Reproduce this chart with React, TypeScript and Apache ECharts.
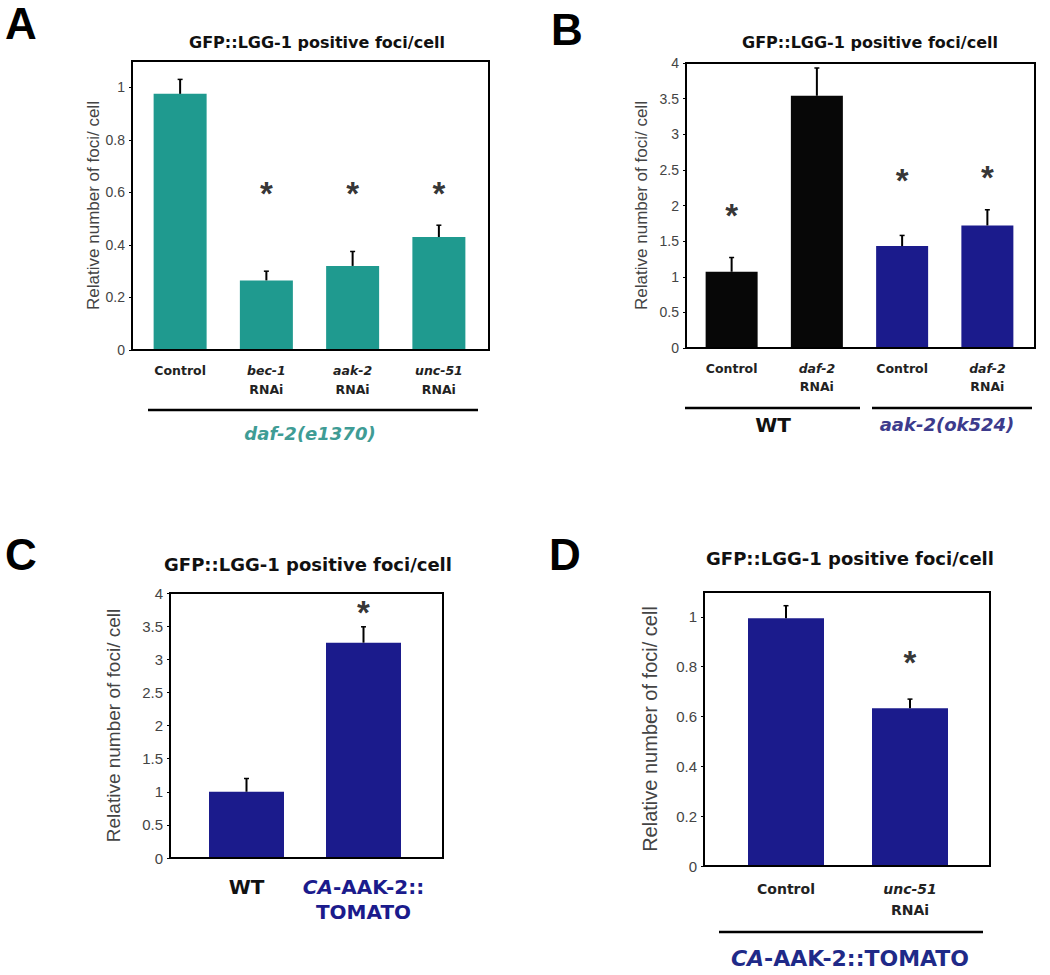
import React, { useEffect, useRef } from "react";
import * as echarts from "echarts";

// ---------- data ----------
const catsA = ["Control", "bec-1 RNAi", "aak-2 RNAi", "unc-51 RNAi"];
const valsA = [0.975, 0.265, 0.32, 0.43];
const errsA = [0.055, 0.035, 0.055, 0.045];
const starsA: (number | null)[] = [null, 0.617, 0.617, 0.617];

const catsB = ["Control", "daf-2 RNAi", "Control", "daf-2 RNAi"];
const valsB = [1.07, 3.54, 1.43, 1.72];
const errsB = [0.2, 0.39, 0.15, 0.22];
const starsB: (number | null)[] = [1.94, null, 2.44, 2.48];

const catsC = ["WT", "CA-AAK-2::TOMATO"];
const valsC = [1.0, 3.25];
const errsC = [0.2, 0.24];
const starsC: (number | null)[] = [null, 3.79];

const catsD = ["Control", "unc-51 RNAi"];
const valsD = [0.995, 0.633];
const errsD = [0.05, 0.037];
const starsD: (number | null)[] = [null, 0.843];

const groupsA = ["daf-2(e1370)"];
const groupsB = ["WT", "aak-2(ok524)"];
const groupsD = ["CA-AAK-2::TOMATO"];

const TITLE = "GFP::LGG-1 positive foci/cell";
const YNAME = "Relative number of foci/ cell";

// ---------- styles ----------
const TEAL = "#1f9a8f";
const NAVY = "#1b1b8c";
const BLACK = "#070707";
const VERD = '"DejaVu Sans", Verdana, sans-serif';
const ARIAL = '"Liberation Sans", Arial, sans-serif';

function rnaiFormatter(v: string) {
  const parts = v.split(" ");
  if (parts.length > 1) return `{g|${parts[0]}}\n{n|${parts[1]}}`;
  return `{n|${v}}`;
}

function caFormatter(v: string) {
  if (v.indexOf("::") < 0) return `{w|${v}}`;
  const [head, tail] = v.split("::");
  const dash = head.indexOf("-");
  return `{ci|${head.slice(0, dash)}}{cb|${head.slice(dash)}::}\n{cb|${tail}}`;
}

type PanelCfg = {
  cats: string[];
  vals: number[];
  errs: number[];
  stars: (number | null)[];
  colors: string[];
  yMax: number;
  yInterval: number;
  showMax: boolean;
  frame: { left: number; top: number; width: number; height: number };
  bars: { left: number; width: number };
  barWidth: number;
  tickFont: number;
  nameFont: number;
  nameGap: number;
  labelMargin: number;
  formatter: (v: string) => string;
  rich: any;
};

function buildPanel(cfg: PanelCfg, idx: number, opt: any) {
  const fg = idx * 2;
  const bg = idx * 2 + 1;
  opt.grid.push({
    left: cfg.frame.left,
    top: cfg.frame.top,
    width: cfg.frame.width,
    height: cfg.frame.height,
    show: true,
    borderColor: "#000",
    borderWidth: 2,
    backgroundColor: "rgba(0,0,0,0)",
    z: 5,
    containLabel: false,
    outerBoundsMode: "none",
  });
  opt.grid.push({
    left: cfg.bars.left,
    top: cfg.frame.top,
    width: cfg.bars.width,
    height: cfg.frame.height,
    containLabel: false,
    outerBoundsMode: "none",
  });
  opt.xAxis.push({ gridIndex: fg, type: "value", show: false, min: 0, max: 1 });
  opt.yAxis.push({
    gridIndex: fg,
    type: "value",
    min: 0,
    max: cfg.yMax,
    interval: cfg.yInterval,
    axisLine: { show: false },
    axisTick: { show: true, length: 3, lineStyle: { color: "#000", width: 1 } },
    splitLine: { show: false },
    axisLabel: {
      showMaxLabel: cfg.showMax,
      color: "#444",
      fontSize: cfg.tickFont,
      fontFamily: ARIAL,
      margin: 7,
      formatter: (v: number) => String(+v.toFixed(2)),
    },
    name: YNAME,
    nameLocation: "middle",
    nameRotate: 90,
    nameGap: cfg.nameGap,
    nameMoveOverlap: false,
    nameTextStyle: { fontSize: cfg.nameFont, color: "#444", fontFamily: ARIAL },
  });
  opt.xAxis.push({
    gridIndex: bg,
    type: "category",
    data: cfg.cats,
    axisLine: { show: false },
    axisTick: { show: false },
    axisLabel: {
      interval: 0,
      margin: cfg.labelMargin,
      formatter: cfg.formatter,
      rich: cfg.rich,
    },
  });
  opt.yAxis.push({ gridIndex: bg, type: "value", min: 0, max: cfg.yMax, show: false });

  opt.series.push({
    type: "bar",
    xAxisIndex: bg,
    yAxisIndex: bg,
    barWidth: cfg.barWidth,
    data: cfg.vals.map((v, i) => ({ value: v, itemStyle: { color: cfg.colors[i] } })),
    z: 2,
  });
  opt.series.push({
    type: "custom",
    xAxisIndex: bg,
    yAxisIndex: bg,
    z: 3,
    encode: { x: 0, y: 1 },
    data: cfg.vals.map((v, i) => [i, v, cfg.errs[i]]),
    renderItem: (_p: any, api: any) => {
      const x = api.value(0);
      const v = api.value(1);
      const e = api.value(2);
      const p0 = api.coord([x, v]);
      const p1 = api.coord([x, v + e]);
      return {
        type: "group",
        children: [
          {
            type: "line",
            shape: { x1: p0[0], y1: p0[1], x2: p1[0], y2: p1[1] },
            style: { stroke: "#000", lineWidth: 2 },
          },
          {
            type: "line",
            shape: { x1: p1[0] - 2.5, y1: p1[1], x2: p1[0] + 2.5, y2: p1[1] },
            style: { stroke: "#000", lineWidth: 1.5 },
          },
        ],
      };
    },
  });
  const starData: any[] = [];
  cfg.stars.forEach((s, i) => {
    if (s != null) starData.push([i, s]);
  });
  opt.series.push({
    type: "scatter",
    xAxisIndex: bg,
    yAxisIndex: bg,
    symbolSize: 1,
    itemStyle: { color: "rgba(0,0,0,0)" },
    z: 4,
    data: starData,
    label: {
      show: true,
      position: "inside",
      formatter: "*",
      fontSize: 33,
      fontWeight: "bold",
      fontFamily: ARIAL,
      color: "#000",
      offset: [0, 6],
    },
  });
}

const richSmall = (size: number, lh: number) => ({
  g: { fontFamily: VERD, fontWeight: "bold", fontStyle: "italic", fontSize: size, color: "#222", lineHeight: lh, align: "center" },
  n: { fontFamily: VERD, fontWeight: "bold", fontSize: size, color: "#222", lineHeight: lh, align: "center" },
});

export default function App() {
  const ref = useRef<HTMLDivElement>(null);
  useEffect(() => {
    if (!ref.current) return;
    const chart = echarts.init(ref.current, undefined, { renderer: "svg" });
    const opt: any = {
      animation: false,
      backgroundColor: "#fff",
      grid: [],
      xAxis: [],
      yAxis: [],
      series: [],
    };

    buildPanel(
      {
        cats: catsA, vals: valsA, errs: errsA, stars: starsA,
        colors: catsA.map(() => TEAL),
        yMax: 1.1, yInterval: 0.2, showMax: false,
        frame: { left: 132, top: 61, width: 357, height: 289 },
        bars: { left: 137, width: 345 },
        barWidth: 53, tickFont: 14, nameFont: 17, nameGap: 30, labelMargin: 11,
        formatter: rnaiFormatter, rich: richSmall(12.5, 19),
      },
      0, opt
    );
    buildPanel(
      {
        cats: catsB, vals: valsB, errs: errsB, stars: starsB,
        colors: [BLACK, BLACK, NAVY, NAVY],
        yMax: 4, yInterval: 0.5, showMax: true,
        frame: { left: 686, top: 63, width: 349, height: 285 },
        bars: { left: 689, width: 341 },
        barWidth: 52, tickFont: 14, nameFont: 17, nameGap: 36, labelMargin: 11,
        formatter: rnaiFormatter, rich: richSmall(12.5, 18),
      },
      1, opt
    );
    buildPanel(
      {
        cats: catsC, vals: valsC, errs: errsC, stars: starsC,
        colors: [NAVY, NAVY],
        yMax: 4, yInterval: 0.5, showMax: true,
        frame: { left: 170, top: 593, width: 273, height: 265 },
        bars: { left: 188, width: 234 },
        barWidth: 75, tickFont: 15, nameFont: 19, nameGap: 47, labelMargin: 16,
        formatter: caFormatter,
        rich: {
          w: { fontFamily: VERD, fontWeight: "bold", fontSize: 20, color: "#111", lineHeight: 25 },
          ci: { fontFamily: VERD, fontWeight: "bold", fontStyle: "italic", fontSize: 20, color: NAVY, lineHeight: 25 },
          cb: { fontFamily: VERD, fontWeight: "bold", fontSize: 20, color: NAVY, lineHeight: 25 },
        },
      },
      2, opt
    );
    buildPanel(
      {
        cats: catsD, vals: valsD, errs: errsD, stars: starsD,
        colors: [NAVY, NAVY],
        yMax: 1.1, yInterval: 0.2, showMax: false,
        frame: { left: 704, top: 592, width: 286, height: 274 },
        bars: { left: 724, width: 248 },
        barWidth: 76, tickFont: 15, nameFont: 20, nameGap: 44, labelMargin: 12,
        formatter: rnaiFormatter, rich: richSmall(14, 21),
      },
      3, opt
    );

    const letter = (t: string, x: number, y: number) => ({
      type: "text",
      x, y,
      style: { text: t, fontFamily: ARIAL, fontWeight: "bold", fontSize: 44, fill: "#000", align: "center", verticalAlign: "middle" },
    });
    const title = (x: number, y: number, size: number) => ({
      type: "text",
      x, y,
      style: { text: TITLE, fontFamily: VERD, fontWeight: "bold", fontSize: size, fill: "#111", align: "center", verticalAlign: "middle" },
    });
    const hline = (x1: number, x2: number, y: number) => ({
      type: "line",
      shape: { x1, y1: y, x2, y2: y },
      style: { stroke: "#000", lineWidth: 2.5 },
    });
    const caHead = groupsD[0].split("::")[0];
    const caDash = caHead.indexOf("-");

    opt.graphic = [
      letter("A", 21, 23),
      letter("B", 567, 29),
      letter("C", 21, 554),
      letter("D", 565, 554),
      title(317, 42, 16),
      title(870, 42, 16),
      title(308, 564, 18),
      title(850, 558, 18),
      hline(148, 478, 410),
      {
        type: "text", x: 310, y: 433,
        style: { text: groupsA[0], fontFamily: VERD, fontWeight: "bold", fontStyle: "italic", fontSize: 18, fill: "#3f9c95", align: "center", verticalAlign: "middle" },
      },
      hline(685, 860, 408),
      hline(872, 1032, 408),
      {
        type: "text", x: 773, y: 425,
        style: { text: groupsB[0], fontFamily: VERD, fontWeight: "bold", fontSize: 20, fill: "#111", align: "center", verticalAlign: "middle" },
      },
      {
        type: "text", x: 947, y: 424,
        style: { text: groupsB[1], fontFamily: VERD, fontWeight: "bold", fontStyle: "italic", fontSize: 18, fill: "#3c3b8c", align: "center", verticalAlign: "middle" },
      },
      hline(719, 983, 932),
      {
        type: "text", x: 850, y: 958,
        style: {
          text: `{i|${caHead.slice(0, caDash)}}{b|${groupsD[0].slice(caDash)}}`,
          align: "center",
          verticalAlign: "middle",
          rich: {
            i: { fontFamily: VERD, fontWeight: "bold", fontStyle: "italic", fontSize: 22, fill: "#1f2a88" },
            b: { fontFamily: VERD, fontWeight: "bold", fontSize: 22, fill: "#1f2a88" },
          },
        },
      },
    ];

    chart.setOption(opt);
    return () => chart.dispose();
  }, []);
  return (
    <div
      ref={ref}
      style={{ position: "fixed", left: 0, top: 0, width: 1050, height: 975, background: "#fff" }}
    />
  );
}
